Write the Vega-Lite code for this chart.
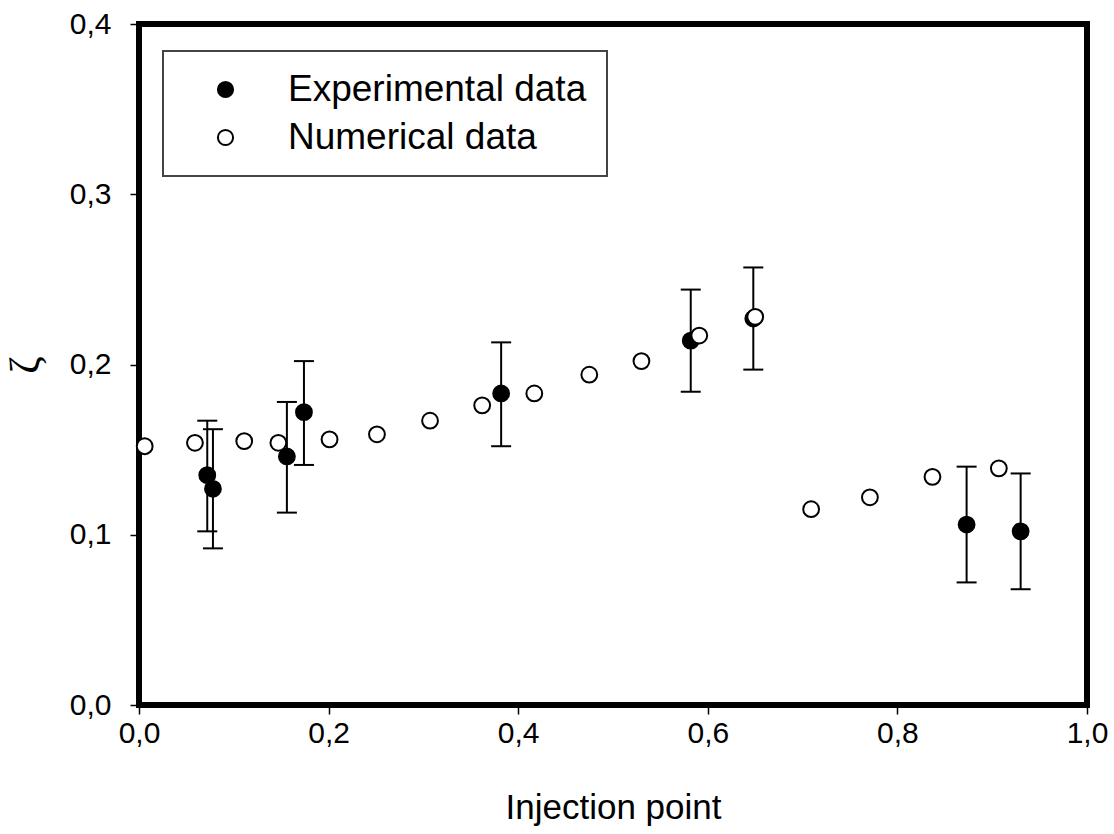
{
  "$schema": "https://vega.github.io/schema/vega-lite/v6.json",
  "width": 948,
  "height": 681,
  "autosize": {"type": "none"},
  "padding": {"left": 139, "top": 24, "right": 27, "bottom": 129},
  "background": "white",
  "config": {
    "view": {"stroke": "black", "strokeWidth": 6},
    "font": "Liberation Sans",
    "axis": {
      "domain": false,
      "grid": false,
      "ticks": true,
      "tickColor": "black",
      "tickWidth": 1.5,
      "tickSize": 9,
      "labelFlush": false,
      "labelOverlap": false,
      "labelFont": "Liberation Sans",
      "labelFontSize": 30,
      "labelColor": "black",
      "titleFont": "Liberation Sans",
      "titleFontSize": 35,
      "titleFontWeight": "normal",
      "titleColor": "black"
    },
    "legend": {
      "strokeWidth": 2
    }
  },
  "data": {
    "values": [
      {"series": "Experimental data", "x": 0.072, "y": 0.135, "lo": 0.102, "hi": 0.167},
      {"series": "Experimental data", "x": 0.078, "y": 0.127, "lo": 0.092, "hi": 0.162},
      {"series": "Experimental data", "x": 0.156, "y": 0.146, "lo": 0.113, "hi": 0.178},
      {"series": "Experimental data", "x": 0.174, "y": 0.172, "lo": 0.141, "hi": 0.202},
      {"series": "Experimental data", "x": 0.382, "y": 0.183, "lo": 0.152, "hi": 0.213},
      {"series": "Experimental data", "x": 0.582, "y": 0.214, "lo": 0.184, "hi": 0.244},
      {"series": "Experimental data", "x": 0.648, "y": 0.227, "lo": 0.197, "hi": 0.257},
      {"series": "Experimental data", "x": 0.873, "y": 0.106, "lo": 0.072, "hi": 0.140},
      {"series": "Experimental data", "x": 0.930, "y": 0.102, "lo": 0.068, "hi": 0.136},
      {"series": "Numerical data", "x": 0.006, "y": 0.152},
      {"series": "Numerical data", "x": 0.059, "y": 0.154},
      {"series": "Numerical data", "x": 0.111, "y": 0.155},
      {"series": "Numerical data", "x": 0.147, "y": 0.154},
      {"series": "Numerical data", "x": 0.201, "y": 0.156},
      {"series": "Numerical data", "x": 0.251, "y": 0.159},
      {"series": "Numerical data", "x": 0.307, "y": 0.167},
      {"series": "Numerical data", "x": 0.362, "y": 0.176},
      {"series": "Numerical data", "x": 0.417, "y": 0.183},
      {"series": "Numerical data", "x": 0.475, "y": 0.194},
      {"series": "Numerical data", "x": 0.530, "y": 0.202},
      {"series": "Numerical data", "x": 0.591, "y": 0.217},
      {"series": "Numerical data", "x": 0.650, "y": 0.228},
      {"series": "Numerical data", "x": 0.709, "y": 0.115},
      {"series": "Numerical data", "x": 0.771, "y": 0.122},
      {"series": "Numerical data", "x": 0.837, "y": 0.134},
      {"series": "Numerical data", "x": 0.907, "y": 0.139}
    ]
  },
  "encoding": {
    "x": {
      "field": "x",
      "type": "quantitative",
      "scale": {"domain": [0, 1], "nice": false, "zero": false},
      "axis": {
        "values": [0, 0.2, 0.4, 0.6, 0.8, 1.0],
        "labelExpr": "replace(format(datum.value, '.1f'), '.', ',')",
        "title": "Injection point",
        "labelPadding": 4,
        "titlePadding": 42
      }
    }
  },
  "layer": [
    {
      "transform": [{"filter": "datum.series === 'Experimental data'"}],
      "mark": {"type": "rule", "color": "black", "strokeWidth": 2},
      "encoding": {
        "y": {"field": "lo", "type": "quantitative"},
        "y2": {"field": "hi"}
      }
    },
    {
      "transform": [{"filter": "datum.series === 'Experimental data'"}],
      "mark": {"type": "tick", "orient": "horizontal", "color": "black", "size": 20, "thickness": 2, "opacity": 1},
      "encoding": {
        "y": {"field": "lo", "type": "quantitative"}
      }
    },
    {
      "transform": [{"filter": "datum.series === 'Experimental data'"}],
      "mark": {"type": "tick", "orient": "horizontal", "color": "black", "size": 20, "thickness": 2, "opacity": 1},
      "encoding": {
        "y": {"field": "hi", "type": "quantitative"}
      }
    },
    {
      "mark": {"type": "point", "shape": "circle", "filled": true, "stroke": "black", "strokeWidth": 2, "size": 250, "opacity": 1},
      "encoding": {
        "y": {
          "field": "y",
          "type": "quantitative",
          "scale": {"domain": [0, 0.4], "nice": false, "zero": false},
          "axis": {
            "values": [0, 0.1, 0.2, 0.3, 0.4],
            "labelExpr": "replace(format(datum.value, '.1f'), '.', ',')",
            "title": "ζ",
            "titleAngle": 270,
            "titleFont": "Liberation Serif",
            "titleFontSize": 42,
            "labelPadding": 19,
            "titlePadding": 22
          }
        },
        "fill": {
          "field": "series",
          "type": "nominal",
          "scale": {"domain": ["Experimental data", "Numerical data"], "range": ["black", "white"]},
          "legend": {
            "title": null,
            "orient": "none",
            "legendX": 24,
            "legendY": 27,
            "padding": 20,
            "strokeColor": "#444444",
            "fillColor": "white",
            "labelFont": "Liberation Sans",
            "labelFontSize": 37,
            "labelColor": "black",
            "labelLimit": 500,
            "symbolType": "circle",
            "symbolSize": 230,
            "symbolStrokeColor": "black",
            "symbolStrokeWidth": 2,
            "symbolOffset": 24,
            "labelOffset": 44,
            "rowPadding": 10
          }
        }
      }
    }
  ]
}
